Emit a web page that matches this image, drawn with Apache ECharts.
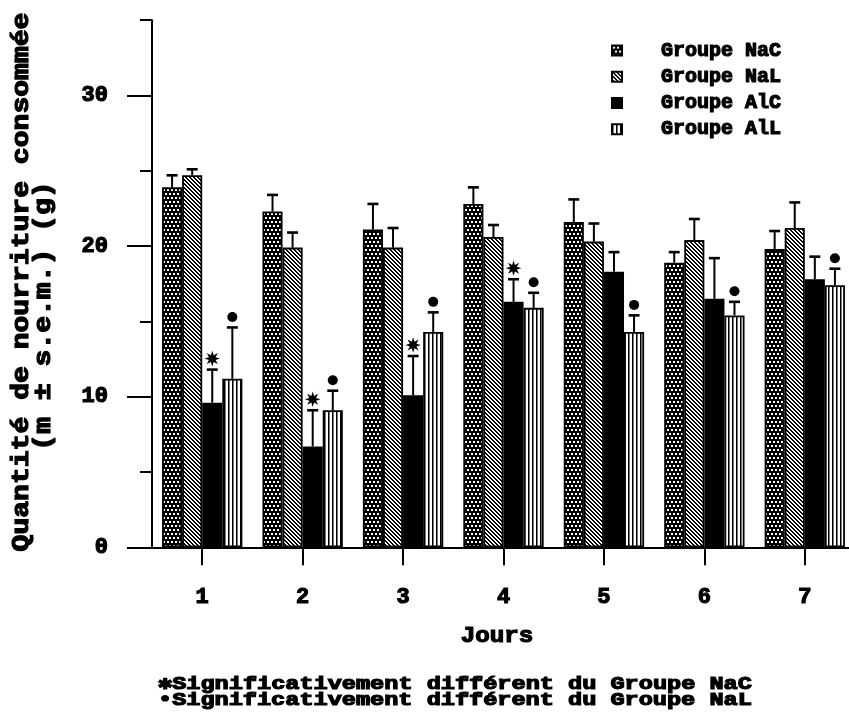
<!DOCTYPE html>
<html>
<head>
<meta charset="utf-8">
<script src="https://cdn.jsdelivr.net/npm/echarts@6/dist/echarts.min.js"></script>
<style>
html,body{margin:0;padding:0;background:#fff;}
#chart{width:849px;height:717px;}
</style>
</head>
<body>
<div id="chart"></div>
<script>
// ---- data ----
const days = ['1', '2', '3', '4', '5', '6', '7'];
const seriesNames = ['Groupe NaC', 'Groupe NaL', 'Groupe AlC', 'Groupe AlL'];
const valNaC = [23.9, 22.3, 21.1, 22.8, 21.6, 18.9, 19.8];
const errNaC = [0.8, 1.1, 1.7, 1.1, 1.5, 0.7, 1.2];
const valNaL = [24.7, 19.9, 19.9, 20.6, 20.3, 20.4, 21.2];
const errNaL = [0.4, 1.0, 1.3, 0.8, 1.2, 1.4, 1.7];
const valAlC = [9.6, 6.7, 10.1, 16.3, 18.3, 16.5, 17.8];
const errAlC = [2.2, 2.4, 2.6, 1.5, 1.3, 2.7, 1.5];
const valAlL = [11.2, 9.1, 14.3, 15.9, 14.3, 15.4, 17.4];
const errAlL = [3.4, 1.3, 1.3, 1.0, 1.1, 0.9, 1.1];
// significance: star = different from NaC (on AlC), dot = different from NaL (on AlL)
const sigStarAlC = [1, 1, 1, 1, 0, 0, 0];
const sigDotAlL = [1, 1, 1, 1, 1, 1, 1];
const yMajorTicks = [0, 10, 20, 30];
const yMinorTicks = [5, 15, 25, 35];
const yTitleLine1 = 'Quantité de nourriture consommée';
const yTitleLine2 = '(m ± s.e.m.) (g)';
const xTitle = 'Jours';
const note1 = '✱Significativement différent du Groupe NaC';
const note2 = '•Significativement différent du Groupe NaL';

// ---- patterns ----
function patDots() {
  const c = document.createElement('canvas'); c.width = 8; c.height = 8;
  const g = c.getContext('2d');
  g.fillStyle = '#000'; g.fillRect(0, 0, 8, 8);
  g.fillStyle = '#fff';
  g.fillRect(1, 1, 2, 2); g.fillRect(5, 1, 2, 2);
  g.fillRect(3, 5, 2, 2); g.fillRect(7, 5, 1, 2); g.fillRect(0, 5, 1, 2);
  return c;
}
function patDiag() {
  const n = 4;
  const c = document.createElement('canvas'); c.width = n; c.height = n;
  const g = c.getContext('2d');
  const img = g.createImageData(n, n);
  for (let y = 0; y < n; y++) for (let x = 0; x < n; x++) {
    const k = (((x - y) % n) + n) % n;
    const v = k < 2 ? 0 : 255;
    const i = (y * n + x) * 4;
    img.data[i] = v; img.data[i + 1] = v; img.data[i + 2] = v; img.data[i + 3] = 255;
  }
  g.putImageData(img, 0, 0);
  return c;
}
function patVert() {
  const c = document.createElement('canvas'); c.width = 4; c.height = 4;
  const g = c.getContext('2d');
  g.fillStyle = '#fff'; g.fillRect(0, 0, 4, 4);
  g.fillStyle = '#000'; g.fillRect(0, 0, 1, 4);
  g.fillStyle = '#777'; g.fillRect(1, 0, 1, 4);
  return c;
}
const fills = [
  { image: patDots(), repeat: 'repeat' },
  { image: patDiag(), repeat: 'repeat' },
  '#000',
  { image: patVert(), repeat: 'repeat' }
];

const FONT = "'Liberation Mono', 'DejaVu Sans Mono', 'DejaVu Sans', monospace";
const vals = [valNaC, valNaL, valAlC, valAlL];
const errs = [errNaC, errNaL, errAlC, errAlL];

const errData = [];
for (let s = 0; s < 4; s++) {
  for (let i = 0; i < days.length; i++) {
    let mk = 0;
    if (s === 2 && sigStarAlC[i]) mk = 1;
    if (s === 3 && sigDotAlL[i]) mk = 2;
    errData.push([i, s, vals[s][i], errs[s][i], mk]);
  }
}

const barSeries = seriesNames.map((name, s) => ({
  name: name,
  type: 'bar',
  data: vals[s],
  barGap: '0%',
  barCategoryGap: '20%',
  itemStyle: { color: fills[s], borderColor: '#000', borderWidth: 1.8 },
  emphasis: { disabled: true },
  z: 2
}));

const errSeries = {
  type: 'custom',
  name: 'err',
  data: errData,
  z: 5,
  silent: true,
  renderItem: function (params, api) {
    const cat = api.value(0), s = api.value(1), v = api.value(2), e = api.value(3), mk = api.value(4);
    const band = api.size([1, 0])[0];
    const c = api.coord([cat, 0])[0];
    const bw = band * 0.8 / 4;
    const x = c - band * 0.4 + bw * (s + 0.5);
    const y0 = api.coord([cat, v])[1];
    const y1 = api.coord([cat, v + e])[1];
    const children = [
      { type: 'line', shape: { x1: x, y1: y0, x2: x, y2: y1 }, style: { stroke: '#000', lineWidth: 2 } },
      { type: 'line', shape: { x1: x - 5.5, y1: y1, x2: x + 5.5, y2: y1 }, style: { stroke: '#000', lineWidth: 2.6 } }
    ];
    if (mk === 1) {
      const cx = x, cy = y1 - 11, R = 7.8, r = 3.6, n = 8;
      const pts = [];
      for (let k = 0; k < n * 2; k++) {
        const a = -Math.PI / 2 + k * Math.PI / n;
        const rr = k % 2 === 0 ? R : r;
        pts.push([cx + rr * Math.cos(a), cy + rr * Math.sin(a)]);
      }
      children.push({ type: 'polygon', shape: { points: pts }, style: { fill: '#000' } });
    } else if (mk === 2) {
      children.push({ type: 'circle', shape: { cx: x, cy: y1 - 10.5, r: 5 }, style: { fill: '#000' } });
    }
    return { type: 'group', children: children };
  }
};

const chart = echarts.init(document.getElementById('chart'), null, { renderer: 'canvas' });
const txt = (extra) => Object.assign({ fill: '#000', stroke: '#000', lineWidth: 1.2 }, extra);
const labelStyle = (size) => ({
  fontFamily: FONT, fontWeight: 'bold', fontSize: size, color: '#000',
  textBorderColor: '#000', textBorderWidth: 1.2
});

chart.setOption({
  animation: false,
  backgroundColor: '#fff',
  grid: { left: 152, top: 20.2, width: 703, height: 527.1, containLabel: false, outerBoundsMode: 'none' },
  legend: {
    data: seriesNames,
    orient: 'vertical',
    left: 606,
    top: 35,
    itemWidth: 10,
    itemHeight: 10,
    itemGap: 5,
    selectedMode: false,
    icon: 'rect',
    textStyle: Object.assign(labelStyle(20), { padding: [0, 0, 0, 34] })
  },
  xAxis: {
    type: 'category',
    data: days,
    axisLine: { show: true, lineStyle: { color: '#000', width: 2 } },
    axisTick: { show: true, alignWithLabel: true, length: 18, lineStyle: { color: '#000', width: 2 } },
    axisLabel: Object.assign(labelStyle(22), { margin: 39 }),
    splitLine: { show: false }
  },
  yAxis: [
    {
      type: 'value', min: 0, max: 35, position: 'left',
      axisLine: { show: true, lineStyle: { color: '#000', width: 2 } },
      axisTick: { show: true, length: 25, customValues: yMajorTicks, lineStyle: { color: '#000', width: 2 } },
      axisLabel: Object.assign(labelStyle(22), { customValues: yMajorTicks, margin: 44 }),
      splitLine: { show: false }
    },
    {
      type: 'value', min: 0, max: 35, position: 'left',
      axisLine: { show: false },
      axisTick: { show: true, length: 12, customValues: yMinorTicks, lineStyle: { color: '#000', width: 2 } },
      axisLabel: { show: false },
      splitLine: { show: false }
    }
  ],
  graphic: [
    { type: 'text', x: 22, y: 282, rotation: Math.PI / 2, scaleX: 1.22, silent: true,
      style: txt({ text: yTitleLine1, font: 'bold 23px ' + FONT, align: 'center', verticalAlign: 'middle' }) },
    { type: 'text', x: 44, y: 316, rotation: Math.PI / 2, scaleX: 1.22, silent: true,
      style: txt({ text: yTitleLine2, font: 'bold 23px ' + FONT, align: 'center', verticalAlign: 'middle' }) },
    { type: 'text', x: 497, y: 636, scaleX: 1.1, silent: true,
      style: txt({ text: xTitle, font: 'bold 22px ' + FONT, align: 'center', verticalAlign: 'middle' }) },
    { type: 'text', x: 158, y: 684, scaleX: 1.24, silent: true,
      style: txt({ text: note1, font: 'bold 19px ' + FONT, align: 'left', verticalAlign: 'middle' }) },
    { type: 'text', x: 158, y: 700, scaleX: 1.24, silent: true,
      style: txt({ text: note2, font: 'bold 19px ' + FONT, align: 'left', verticalAlign: 'middle' }) }
  ],
  series: barSeries.concat([errSeries])
});
</script>
</body>
</html>
